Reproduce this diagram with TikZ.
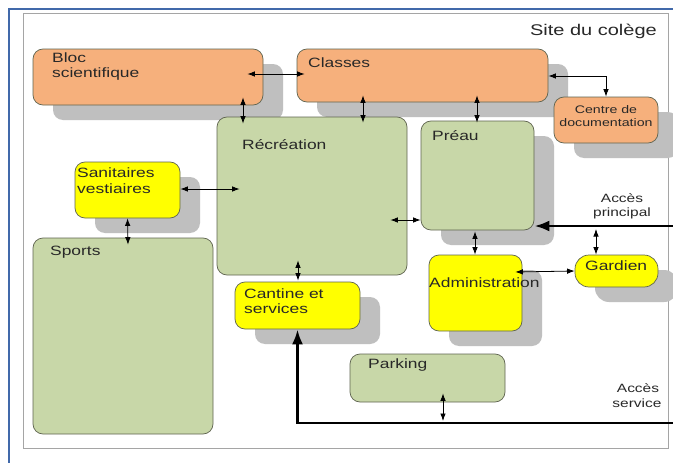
\documentclass[tikz,border=0pt]{standalone}
\usepackage{fontspec}
\setmainfont[FakeStretch=1.29]{Liberation Sans}
\usetikzlibrary{arrows.meta,calc}
\definecolor{orgfill}{RGB}{246,176,124}
\definecolor{grnfill}{RGB}{200,215,168}
\definecolor{ylwfill}{RGB}{255,255,0}
\definecolor{shadecol}{RGB}{191,191,191}
\definecolor{boxline}{RGB}{95,100,80}
\definecolor{txtcol}{RGB}{40,40,40}
\definecolor{bluefr}{RGB}{65,105,170}
\definecolor{grayfr}{RGB}{165,165,165}
\begin{document}
\begin{tikzpicture}[x=1pt,y=-1pt,
  sz/.style 2 args={minimum width=#1pt, minimum height=#2pt},
  room/.style={draw=boxline, line width=0.7pt, rounded corners=10pt, inner sep=0pt},
  shadowbox/.style={fill=shadecol, draw=none, rounded corners=10pt, inner sep=0pt},
  txt/.style={font=\fontsize{13.5}{16}\selectfont, text=txtcol, inner sep=0pt, anchor=base west},
  smalltxt/.style={font=\fontsize{11}{14}\selectfont, text=txtcol, inner sep=0pt, anchor=base},
  acctxt/.style={font=\fontsize{12}{15}\selectfont, text=txtcol, inner sep=0pt, anchor=base},
  link/.style={line width=0.8pt, {Latex[length=7.5pt,width=5.5pt]}-{Latex[length=7.5pt,width=5.5pt]}},
  access/.style={line width=2.8pt, -{Latex[length=15pt,width=11pt]}}]
\useasboundingbox (0,0) rectangle (673,463);
% frames
\fill[white] (0,0) rectangle (673,463);
\draw[bluefr, line width=2.6pt] (9,463) -- (9,9) -- (673,9);
\draw[grayfr, line width=0.9pt] (23.5,13.5) rectangle (668,448);
% shadows
\node[shadowbox, sz={230}{56}] (bloc-sh) at (168,92) {};
\node[shadowbox, sz={251}{53}] (classes-sh) at (442.5,90.5) {};
\node[shadowbox, sz={104}{46}] (centre-sh) at (626,135) {};
\node[shadowbox, sz={113}{109}] (preau-sh) at (497.5,190.5) {};
\node[shadowbox, sz={105}{56}] (sani-sh) at (147.5,205) {};
\node[shadowbox, sz={125}{47}] (cantine-sh) at (317.5,320.5) {};
\node[shadowbox, sz={93}{76}] (admin-sh) at (495.5,308) {};
\node[shadowbox, sz={83}{32}, rounded corners=14pt] (gardien-sh) at (636.5,286) {};
% rooms
\node[room, fill=orgfill, sz={230}{56}] (bloc) at (148,77) {};
\node[room, fill=orgfill, sz={251}{53}] (classes) at (422.5,75.5) {};
\node[room, fill=orgfill, sz={104}{46}] (centre) at (606,120) {};
\node[room, fill=grnfill, sz={190}{158}] (recre) at (312,196) {};
\node[room, fill=grnfill, sz={113}{109}] (preau) at (477.5,175.5) {};
\node[room, fill=ylwfill, sz={105}{56}] (sani) at (127.5,190) {};
\node[room, fill=grnfill, sz={180}{196}] (sports) at (123,336) {};
\node[room, fill=ylwfill, sz={125}{47}] (cantine) at (297.5,305.5) {};
\node[room, fill=ylwfill, sz={93}{76}] (admin) at (475.5,293) {};
\node[room, fill=ylwfill, sz={83}{32}, rounded corners=14pt] (gardien) at (616.5,271) {};
\node[room, fill=grnfill, sz={155}{48}] (parking) at (427.5,378) {};
% texts
\node[font=\fontsize{15.5}{18}\selectfont, text=txtcol, inner sep=0pt, anchor=base east] (t-site) at (657,35) {Site du colège};
\node[txt] (t-bloc1) at (52,63) {Bloc};
\node[txt] (t-bloc2) at (52,77) {scientifique};
\node[txt] (t-classes) at (308,67) {Classes};
\node[smalltxt] (t-centre1) at (606,113) {Centre de};
\node[smalltxt] (t-centre2) at (606,126) {documentation};
\node[txt] (t-recre) at (242,149) {Récréation};
\node[txt] (t-preau) at (432,140) {Préau};
\node[txt] (t-sani1) at (77,177) {Sanitaires};
\node[txt] (t-sani2) at (77,193) {vestiaires};
\node[txt] (t-sports) at (50,255) {Sports};
\node[txt] (t-cant1) at (244,298) {Cantine et};
\node[txt] (t-cant2) at (244,313) {services};
\node[txt] (t-admin) at (429,287) {Administration};
\node[txt] (t-gard) at (585,270) {Gardien};
\node[txt] (t-park) at (368,368) {Parking};
\node[acctxt] (t-ap1) at (622,202) {Accès};
\node[acctxt] (t-ap2) at (622,216) {principal};
\node[acctxt] (t-as1) at (638,392) {Accès};
\node[acctxt] (t-as2) at (637,407) {service};
% access coordinates
\coordinate (apin) at (675,226);
\coordinate (asin) at (675,423);
\coordinate (pj) at (596,229);
\coordinate (pk) at (443,421);
% thick access lines
\draw[access] (apin) -- (preau.east |- apin);
\draw[access] (asin) -| (cantine.south);
% links
\draw[link] ($(bloc.east)+(-16,-3)$) -- ($(classes.west)+(8,-1.5)$);
\draw[link] ($(bloc.south)+(95,-8)$) -- ($(recre.north)+(-69,7)$);
\draw[link] ($(classes.south)+(-59.5,-7)$) -- ($(recre.north)+(51,6)$);
\draw[link] ($(classes.south)+(54.5,-7)$) -- ($(preau.north)+(-0.5,2)$);
\draw[link, rounded corners=0pt] ($(classes.east)+(0,0.5)$) -| (centre.north);
\draw[link] ($(sani.east)+(0,-1)$) -- ($(recre.west)+(23,-7)$);
\draw[link] (sani.south) -- ($(sports.north)+(5,7)$);
\draw[link] ($(recre.east)+(-17,24)$) -- ($(preau.west)+(0,44.5)$);
\draw[link] ($(recre.south)+(-14,-15)$) -- ($(cantine.north)+(0.5,-1)$);
\draw[link] ($(preau.south)+(-2.5,1)$) -- ($(admin.north)+(-0.5,0)$);
\draw[link] ($(admin.east)+(-7,-21)$) -- (gardien.west);
\draw[link] (pj) -- (gardien.north -| pj);
\draw[link] ($(parking.south)+(15.5,-9)$) -- (pk);
\end{tikzpicture}
\end{document}
